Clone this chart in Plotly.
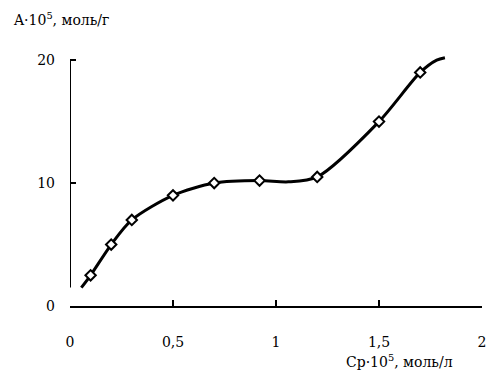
import plotly.graph_objects as go

# Experimental points
cp = [0.1, 0.2, 0.3, 0.5, 0.7, 0.92, 1.2, 1.5, 1.7]
a_vals = [2.5, 5.0, 7.0, 9.0, 10.0, 10.2, 10.5, 15.0, 19.0]

# Smoothed curve
curve_x = [0.055, 0.1, 0.2, 0.3, 0.5, 0.7, 0.92, 1.06, 1.2, 1.5, 1.7, 1.78, 1.82]
curve_y = [1.5, 2.5, 5.0, 7.0, 9.0, 10.0, 10.2, 10.1, 10.5, 15.0, 19.0, 20.0, 20.2]

x_ticks = [0, 0.5, 1, 1.5, 2]
x_labels = ["0", "0,5", "1", "1,5", "2"]
y_ticks = [0, 10, 20]
y_labels = ["0", "10", "20"]

font = "DejaVu Serif"

fig = go.Figure()
fig.add_trace(go.Scatter(x=curve_x, y=curve_y, mode="lines",
                         line=dict(color="black", width=3, shape="spline", smoothing=0.8),
                         cliponaxis=False, hoverinfo="skip"))
fig.add_trace(go.Scatter(x=cp, y=a_vals, mode="markers",
                         marker=dict(symbol="diamond", size=8, color="white",
                                     line=dict(color="black", width=2)),
                         cliponaxis=False))

fig.add_shape(type="line", xref="x", yref="y", x0=0, x1=0, y0=1.5, y1=20,
              line=dict(color="black", width=2))

fig.update_layout(
    width=493, height=372,
    margin=dict(l=70, r=7, t=54, b=66),
    plot_bgcolor="white", paper_bgcolor="white",
    showlegend=False,
    font=dict(family=font, size=14, color="black"),
    xaxis=dict(range=[0, 2], tickvals=x_ticks, ticktext=x_labels,
               showline=True, linecolor="black", linewidth=2,
               ticks="inside", ticklen=6, tickwidth=2, tickcolor="black",
               showgrid=False, zeroline=False, ticklabelstandoff=22),
    yaxis=dict(range=[0, 20.5], tickvals=y_ticks, ticktext=y_labels,
               showline=False, ticks="inside", ticklen=6, tickwidth=2, tickcolor="black",
               showgrid=False, zeroline=False, ticklabelstandoff=14),
    annotations=[
        dict(text="A·10<sup>5</sup>, моль/г", xref="paper", yref="paper",
             x=-60/416, y=1.0 + 35/252, xanchor="left", yanchor="middle",
             showarrow=False, font=dict(family=font, size=14)),
        dict(text="Cp·10<sup>5</sup>, моль/л", xref="paper", yref="paper",
             x=1.0 - 27/416, y=-55/252, xanchor="right", yanchor="middle",
             showarrow=False, font=dict(family=font, size=14)),
    ],
)

fig.write_html("out.html", config={"displayModeBar": False},
               post_script="document.body.style.margin='0';")
